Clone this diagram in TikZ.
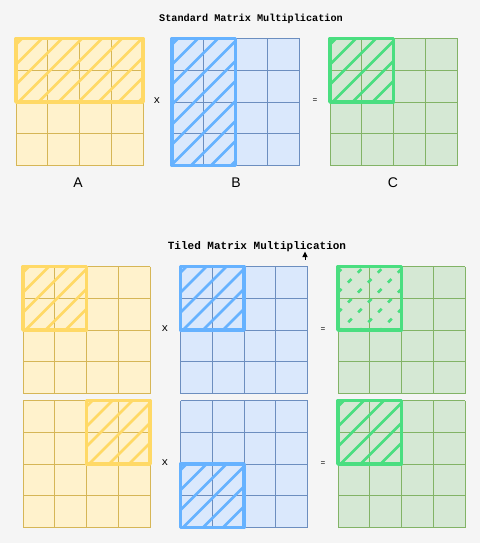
\documentclass[tikz,border=0pt]{standalone}
\usepackage{fontspec}
\setmainfont{Liberation Sans}
\setsansfont{Liberation Sans}
\setmonofont{Liberation Mono}
\definecolor{bg}{HTML}{F5F5F5}
\definecolor{yfill}{HTML}{FFF2CC}
\definecolor{yline}{HTML}{D6B656}
\definecolor{yhi}{HTML}{FFD966}
\definecolor{bfill}{HTML}{DAE8FC}
\definecolor{bline}{HTML}{6C8EBF}
\definecolor{bhi}{HTML}{66B2FF}
\definecolor{gfill}{HTML}{D5E8D4}
\definecolor{gline}{HTML}{82B366}
\definecolor{ghi}{HTML}{4ADE80}
\tikzset{
  gridline/.style={line width=0.8pt},
  hiborder/.style={line width=3.8pt, line join=round},
  hatchline/.style={line width=2.6pt},
  dashhatch/.style={dash pattern=on 5pt off 9pt, dash phase=3pt},
  title/.style={font=\ttfamily\bfseries, inner sep=0pt},
  oplabel/.style={font=\ttfamily, inner sep=0pt},
  matlabel/.style={font=\sffamily, inner sep=0pt}
}
% grid: x0 y0 fill line
\newcommand\mgrid[4]{%
  \fill[#3] (#1,#2) rectangle ++(127,127);
  \foreach \i in {0,...,4}{%
    \draw[#4,gridline] (#1+\i*31.75,#2) -- ++(0,127);
    \draw[#4,gridline] (#1,#2+\i*31.75) -- ++(127,0);
  }%
}
% highlight: x0 y0 w h colour extra-hatch-style
\newcommand\hirect[6]{%
  \begin{scope}
    \clip (#1,#2) rectangle ++(#3,#4);
    \pgfmathsetmacro\hs{#1-#4+6}%
    \pgfmathsetmacro\hn{#1-#4+26}%
    \pgfmathsetmacro\he{#1+#3}%
    \foreach \a in {\hs,\hn,...,\he}
      \draw[#5,hatchline,#6] (\a,#2+#4) -- ++(#4,-#4);
  \end{scope}
  \draw[#5,hiborder] (#1,#2) rectangle ++(#3,#4);
}
\begin{document}
\begin{tikzpicture}[x=1pt,y=-1pt]
\fill[bg] (0,0) rectangle (480,543);
\useasboundingbox (0,0) rectangle (480,543);

% ---------- Standard ----------
\node[title, font=\fontsize{10.2}{12}\ttfamily\bfseries] (t1) at (251,19) {Standard Matrix Multiplication};
\mgrid{16}{38.5}{yfill}{yline}
\mgrid{172}{38.5}{bfill}{bline}
\mgrid{330}{38.5}{gfill}{gline}
\hirect{16}{38.5}{127}{63.5}{yhi}{}
\hirect{172}{38.5}{63.5}{127}{bhi}{}
\hirect{330}{38.5}{63.5}{63.5}{ghi}{}
\node[oplabel, font=\fontsize{11}{13}\ttfamily] (x1) at (157,100.5) {x};
\node[oplabel, font=\fontsize{8}{10}\ttfamily] (e1) at (315,101) {=};
\node[matlabel, font=\fontsize{14}{16}\sffamily] (la) at (78,183) {A};
\node[matlabel, font=\fontsize{14}{16}\sffamily] (lb) at (236,183) {B};
\node[matlabel, font=\fontsize{14}{16}\sffamily] (lc) at (393,183) {C};

% ---------- Tiled ----------
\node[title, font=\fontsize{11}{13}\ttfamily\bfseries] (t2) at (257,247) {Tiled Matrix Multiplication};
% cursor
\fill[black] (305,251.5) -- (302.3,257) -- (307.7,257) -- cycle;
\draw[black, line width=0.9pt] (305,256) -- (305,259.5);

% row 1
\mgrid{23}{266.5}{yfill}{yline}
\mgrid{180.5}{266.5}{bfill}{bline}
\mgrid{338}{266.5}{gfill}{gline}
\hirect{23}{266.5}{63.5}{63.5}{yhi}{}
\hirect{180.5}{266.5}{63.5}{63.5}{bhi}{}
\hirect{338}{266.5}{63.5}{63.5}{ghi}{dashhatch}
\node[oplabel, font=\fontsize{11}{13}\ttfamily] (x2) at (165,328.5) {x};
\node[oplabel, font=\fontsize{8}{10}\ttfamily] (e2) at (323,330) {=};

% row 2
\mgrid{23}{400.5}{yfill}{yline}
\mgrid{180.5}{400.5}{bfill}{bline}
\mgrid{338}{400.5}{gfill}{gline}
\hirect{86.5}{400.5}{63.5}{63.5}{yhi}{}
\hirect{180.5}{464}{63.5}{63.5}{bhi}{}
\hirect{338}{400.5}{63.5}{63.5}{ghi}{}
\node[oplabel, font=\fontsize{11}{13}\ttfamily] (x3) at (165,462.5) {x};
\node[oplabel, font=\fontsize{8}{10}\ttfamily] (e3) at (323,464) {=};
\end{tikzpicture}
\end{document}
